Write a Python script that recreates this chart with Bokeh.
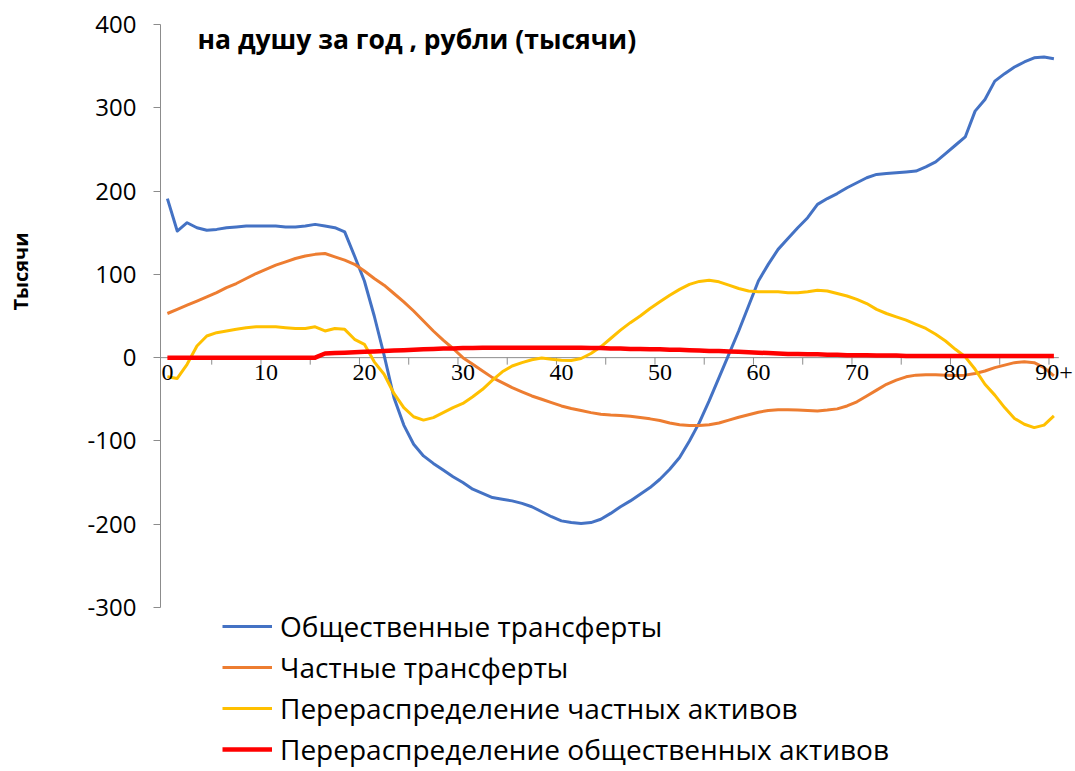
from bokeh.plotting import figure
from bokeh.layouts import row
from bokeh.models import Range1d, Legend, LegendItem, LabelSet, Label, ColumnDataSource, FixedTicker
from bokeh.embed import file_html
from bokeh.resources import INLINE

# ---------------- data (thousand rubles per capita per year) ----------------
ages = list(range(91))
age_tick_values = [0, 10, 20, 30, 40, 50, 60, 70, 80, 90]
age_tick_labels = ["0", "10", "20", "30", "40", "50", "60", "70", "80", "90+"]
y_ticks = [-300, -200, -100, 0, 100, 200, 300, 400]

public_transfers = [
    191, 152, 162, 156, 153, 154, 156, 157, 158, 158,
    158, 158, 157, 157, 158, 160, 158, 156, 151, 122,
    92, 50, 3, -48, -81, -104, -118, -127, -135, -143,
    -150, -158, -163, -168, -170, -172, -175, -179, -185, -191,
    -196, -198, -199, -198, -194, -187, -179, -172, -164, -156,
    -146, -134, -120, -100, -78, -52, -24, 4, 32, 62,
    92, 112, 130, 143, 156, 168, 184, 191, 197, 204,
    210, 216, 220, 221, 222, 223, 224, 229, 235, 245,
    255, 265, 296, 310, 332, 341, 349, 355, 360, 361,
    359,
]
private_transfers = [
    53, 58, 63, 68, 73, 78, 84, 89, 95, 101,
    106, 111, 115, 119, 122, 124, 125, 121, 117, 112,
    104, 95, 87, 77, 67, 56, 44, 32, 21, 11,
    0, -8, -16, -24, -30, -36, -41, -46, -50, -54,
    -58, -61, -63.5, -66, -68, -69, -69.5, -70.5, -72, -73.5,
    -75.5, -78.5, -80.5, -81.5, -81.5, -80.5, -78.5, -75, -71.5, -68.5,
    -65.5, -63.5, -62.5, -62.5, -63, -63.5, -64, -63, -61.5, -58,
    -53, -46, -39, -32, -27, -23, -21, -20.5, -20.5, -21,
    -21.5, -21, -19, -16, -12, -9, -6, -5, -6, -12,
    -22,
]
private_assets = [
    -23, -25, -8, 14, 26, 30, 32, 34, 36, 37,
    37, 37, 36, 35, 35, 37, 32, 35, 34, 22,
    16, -5, -20, -43, -60, -71, -75, -72, -66, -60,
    -55, -47, -38, -27, -17, -10, -6, -2.5, -0.5, -2,
    -3, -3.5, -1, 5, 13, 23, 33, 42, 50, 59,
    67, 75, 82, 88, 91.5, 93, 91, 87, 83, 80,
    79, 79, 79, 78, 78, 79, 81, 80, 77, 74,
    70, 65, 58, 53, 49, 45, 40, 35, 28, 20,
    10, 1, -14, -32, -45, -60, -73, -80, -84, -81,
    -70,
]
public_assets = [
    0, 0, 0, 0, 0, 0, 0, 0, 0, 0,
    0, 0, 0, 0, 0, 0, 5, 5.5, 6, 6.5,
    7, 7.5, 8, 8.5, 9, 9.5, 10, 10.5, 11, 11,
    11.5, 11.5, 12, 12, 12, 12, 12, 12, 12, 12,
    12, 12, 12, 11.5, 11.5, 11, 11, 10.5, 10.5, 10,
    10, 9.5, 9.5, 9, 8.5, 8, 8, 7.5, 7, 6.5,
    6, 5.5, 5, 4.5, 4.5, 4, 4, 3.5, 3.5, 3,
    3, 3, 2.5, 2.5, 2.5, 2, 2, 2, 2, 2,
    2, 2, 2, 2, 2, 2, 2, 2, 2, 2,
    2,
]

series_names = [
    "Общественные трансферты",
    "Частные трансферты",
    "Перераспределение частных активов",
    "Перераспределение общественных активов",
]
series_colors = ["#4472C4", "#ED7D31", "#FFC000", "#FF0000"]
series_widths = [3, 3, 3, 4.5]

title_text = "на душу за год , рубли (тысячи)"
y_axis_title = "Тысячи"

FONT = "Open Sans"

# ---------------- layout ----------------
TOTAL_W, H = 1075, 771
LW = 40                    # narrow strip holding the vertical axis title
W = TOTAL_W - LW
AXIS_X = 160               # page x of the y axis
LEFT = AXIS_X - LW         # border inside main figure
PX_X = 9.85                # pixels per age category
X0 = -0.7                  # category value at the y axis
PX_Y = 583.0 / 700.0       # pixels per thousand rubles
Y_TOP_PAD = 24             # px between top of figure and top tick

x_start = X0
x_end = x_start + (W - LEFT) / PX_X
y_end = max(y_ticks) + Y_TOP_PAD / PX_Y
y_start = y_end - H / PX_Y


def px_to_x(px):
    return x_start + (px - AXIS_X) / PX_X


def px_to_y(py):
    return y_end - py / PX_Y


p = figure(
    width=W, height=H,
    x_range=Range1d(x_start, x_end), y_range=Range1d(y_start, y_end),
    output_backend="svg", toolbar_location=None,
    x_axis_location=None,
    min_border_left=LEFT, min_border_right=0, min_border_top=0, min_border_bottom=0,
)
p.outline_line_color = None
p.xgrid.visible = False
p.ygrid.visible = False
p.background_fill_color = "white"
p.border_fill_color = "white"

axis_gray = "#8C8C8C"
yax = p.yaxis[0]
yax.ticker = FixedTicker(ticks=y_ticks)
yax.major_label_overrides = {t: str(t) for t in y_ticks}
yax.bounds = (min(y_ticks), max(y_ticks))
yax.axis_line_color = axis_gray
yax.major_tick_line_color = axis_gray
yax.major_tick_in = 0
yax.major_tick_out = 7
yax.minor_tick_line_color = None
yax.major_label_text_font = FONT
yax.major_label_text_font_size = "24px"
yax.major_label_text_color = "black"
yax.major_label_standoff = 17

# category x-axis drawn at y = 0
n = len(ages)
p.segment(x0=[x_start], y0=[0], x1=[n - 0.5], y1=[0], line_color=axis_gray, line_width=1)
tick_pos = [k - 0.5 for k in range(5, n, 5)]
tick_len = 7 / PX_Y
p.segment(x0=tick_pos, y0=[0] * len(tick_pos), x1=tick_pos, y1=[-tick_len] * len(tick_pos),
          line_color=axis_gray, line_width=1)

lab_src = ColumnDataSource(dict(x=age_tick_values, y=[0] * len(age_tick_values), t=age_tick_labels))
p.add_layout(LabelSet(x="x", y="y", text="t", source=lab_src, y_offset=-15,
                      text_align="center", text_baseline="middle",
                      text_font=FONT, text_font_size="24px", text_color="black"))

# series
all_series = [public_transfers, private_transfers, private_assets, public_assets]
renderers = []
for vals, col, lw in zip(all_series, series_colors, series_widths):
    r = p.line(ages, vals, line_color=col, line_width=lw, line_join="round")
    renderers.append(r)

legend = Legend(
    items=[LegendItem(label=nm, renderers=[r]) for nm, r in zip(series_names, renderers)],
    location=(62, 3),
    orientation="vertical",
    label_text_font=FONT, label_text_font_size="28px", label_text_color="black",
    glyph_width=50, glyph_height=28, label_height=28, spacing=3,
    label_standoff=8, padding=0, margin=0,
    border_line_alpha=0, background_fill_alpha=0,
)
p.add_layout(legend)

# chart title inside plot area
p.add_layout(Label(x=px_to_x(197), y=px_to_y(38), text=title_text,
                   text_font=FONT, text_font_size="26.5px", text_font_style="bold",
                   text_align="left", text_baseline="middle", text_color="black"))

# narrow strip with the vertical axis title
side = figure(width=LW, height=H, x_range=Range1d(0, LW), y_range=Range1d(0, H),
              output_backend="svg", toolbar_location=None,
              x_axis_location=None, y_axis_location=None, min_border=0)
side.outline_line_color = None
side.xgrid.visible = False
side.ygrid.visible = False
side.add_layout(Label(x=20, y=H - 271, text=y_axis_title, angle=1.5708,
                      text_font=FONT, text_font_size="20px", text_font_style="bold",
                      text_align="center", text_baseline="middle", text_color="black"))

layout = row(side, p, spacing=0)
open("out.html", "w").write(file_html(layout, INLINE))
